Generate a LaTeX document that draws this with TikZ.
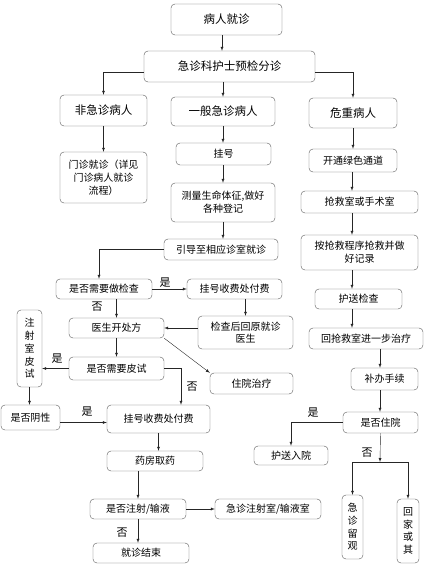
\documentclass[tikz,border=0pt]{standalone}
\usepackage{fontspec}
\setmainfont{Noto Sans CJK SC}
\usepackage{tikz}
\usetikzlibrary{arrows, positioning, calc}

\tikzset{
    box/.style={draw=black!65, rounded corners=4pt, align=center, inner sep=0pt,
        font=\fontsize{10}{12.7}\selectfont},
    bigbox/.style={box, font=\fontsize{11.5}{14}\selectfont},
    arr/.style={->, >=latex, black!85},
    lab/.style={font=\fontsize{11}{13}\selectfont}
}

\begin{document}
\begin{tikzpicture}[x=1pt, y=-1pt]
    \useasboundingbox (0,0) rectangle (432,571);

    % Top levels
    \node[bigbox, minimum width=111pt, minimum height=31pt] (visit) at (226.5,19.5) {病人就诊};
    \node[bigbox, minimum width=171pt, minimum height=31pt] (triage) at (229.5,66.5) {急诊科护士预检分诊};
    \node[bigbox, minimum width=87pt, minimum height=31pt] (nonurg) at (103.5,110.5) {非急诊病人};
    \node[bigbox, minimum width=104pt, minimum height=29pt] (general) at (223,111.5) {一般急诊病人};
    \node[bigbox, minimum width=88pt, minimum height=30pt] (critical) at (353,113) {危重病人};

    % Left and middle columns
    \node[box, minimum width=87pt, minimum height=51pt] (clinic) at (103.5,177.5) {门诊就诊（详见\\门诊病人就诊\\流程）};
    \node[box, minimum width=95pt, minimum height=22pt] (register) at (223.5,154) {挂号};
    \node[box, minimum width=104pt, minimum height=39pt] (vital) at (223,202.5) {测量生命体征,做好\\各种登记};
    \node[box, minimum width=114pt, minimum height=21pt] (guide) at (221,249.5) {引导至相应诊室就诊};
    \node[box, minimum width=96pt, minimum height=20pt] (needexam) at (104,289) {是否需要做检查};
    \node[box, minimum width=95pt, minimum height=20pt] (payexam) at (234.5,289) {挂号收费处付费};
    \node[box, minimum width=95pt, minimum height=20pt] (prescribe) at (116.5,328) {医生开处方};
    \node[box, minimum width=95pt, minimum height=33pt] (backdoc) at (245.5,332.5) {检查后回原就诊\\医生};
    \node[box, minimum width=25pt, minimum height=77pt] (skintest) at (29.5,348.5) {注\\射\\室\\皮\\试};
    \node[box, minimum width=95pt, minimum height=23pt] (needskin) at (116.5,368.5) {是否需要皮试};
    \node[box, minimum width=83pt, minimum height=21pt] (inpatient) at (251.5,383.5) {住院治疗};
    \node[box, minimum width=59pt, minimum height=25pt] (negative) at (30.5,417.5) {是否阴性};
    \node[box, minimum width=103pt, minimum height=28pt] (paydrug) at (158.5,419) {挂号收费处付费};
    \node[box, minimum width=96pt, minimum height=20pt] (pharmacy) at (155,461) {药房取药};
    \node[box, minimum width=96pt, minimum height=20pt] (inject) at (138,509) {是否注射/输液};
    \node[box, minimum width=106pt, minimum height=20pt] (injroom) at (268,509) {急诊注射室/输液室};
    \node[box, minimum width=96pt, minimum height=20pt] (finish) at (141,553) {就诊结束};

    % Right column
    \node[box, minimum width=88pt, minimum height=23pt] (green) at (353,160.5) {开通绿色通道};
    \node[box, minimum width=117pt, minimum height=22pt] (rescue) at (359.5,202) {抢救室或手术室};
    \node[box, minimum width=117pt, minimum height=35pt] (record) at (359.5,252.5) {按抢救程序抢救并做\\好记录};
    \node[box, minimum width=87pt, minimum height=20pt] (escort) at (358.5,299) {护送检查};
    \node[box, minimum width=114pt, minimum height=21pt] (further) at (366,338.5) {回抢救室进一步治疗};
    \node[box, minimum width=67pt, minimum height=22pt] (formal) at (384.5,379) {补办手续};
    \node[box, minimum width=75pt, minimum height=21pt] (admit) at (380.5,422.5) {是否住院};
    \node[box, minimum width=74pt, minimum height=19pt] (escortin) at (291,455.5) {护送入院};
    \node[box, minimum width=21pt, minimum height=64pt] (observe) at (352.5,527) {急\\诊\\留\\观};
    \node[box, minimum width=22pt, minimum height=64pt] (home) at (408,531) {回\\家\\或\\其};

    % Column lines
    \coordinate (rcol) at (352,0);
    \coordinate (rcolb) at (380,0);
    \coordinate (split) at (380,462);

    % Connectors, top
    \draw[arr] (visit.south -| 222,0) -- (triage.north -| 222,0);
    \draw[arr] ([yshift=-5.5pt]triage.west) -| (nonurg.north);
    \draw[arr] (triage.south -| general.north) -- (general.north);
    \draw[arr] ([yshift=-5.5pt]triage.east) -| (critical.north);

    % Connectors, left and middle
    \draw[arr] (nonurg.south) -- (clinic.north);
    \draw[arr] (general.south) -- (general.south |- register.north);
    \draw[arr] (register.south -| vital.north) -- (vital.north);
    \draw[arr] (vital.south) -- (vital.south |- guide.north);
    \draw[arr] (guide.west) -| ([xshift=-5pt]needexam.north);
    \draw[arr] (needexam.east) -- (payexam.west);
    \draw[arr] (prescribe.north |- needexam.south) -- (prescribe.north);
    \draw[arr] (backdoc.north |- payexam.south) -- (backdoc.north);
    \draw[arr] (prescribe.east -| backdoc.west) -- (prescribe.east);
    \draw[arr] (prescribe.south east) -- (inpatient.north west);
    \draw[arr] (prescribe.south) -- (needskin.north);
    \draw[arr] (needskin.west) -- (needskin.west -| skintest.east);
    \draw[arr] (needskin.east) -| ([xshift=22.5pt]paydrug.north);
    \draw[arr] (skintest.south) -- (skintest.south |- negative.north);
    \draw[arr] ([yshift=-5pt]negative.east) -- ([yshift=-5pt]negative.east -| paydrug.west);
    \draw[arr] (paydrug.south) -- (paydrug.south |- pharmacy.north);
    \draw[arr] (inject.north |- pharmacy.south) -- (inject.north);
    \draw[arr] (inject.east) -- (injroom.west);
    \draw[arr] (inject.south) -- (inject.south |- finish.north);

    % Connectors, right
    \draw[arr] (critical.south) -- (green.north);
    \draw[arr] (rcol |- green.south) -- (rcol |- rescue.north);
    \draw[arr] (rcol |- rescue.south) -- (rcol |- record.north);
    \draw[arr] (rcol |- record.south) -- (rcol |- escort.north);
    \draw[arr] (rcol |- escort.south) -- (rcol |- further.north);
    \draw[arr] (rcolb |- further.south) -- (rcolb |- formal.north);
    \draw[arr] (rcolb |- formal.south) -- (rcolb |- admit.north);
    \draw[arr] (admit.west) -| (escortin.north);
    \draw[arr] (admit.south) -- (split);
    \draw[arr] (split) -| (observe.north);
    \draw[arr] (split) -| (home.north);

    % Labels
    \node[lab] (yes1) at (165,283) {是};
    \node[lab] (no1) at (97,307) {否};
    \node[lab] (yes2) at (57,359) {是};
    \node[lab] (no2) at (192,387) {否};
    \node[lab] (yes3) at (87,412) {是};
    \node[lab] (no3) at (122,533) {否};
    \node[lab] (yes4) at (313,413) {是};
    \node[lab] (no4) at (367,453) {否};
\end{tikzpicture}
\end{document}
